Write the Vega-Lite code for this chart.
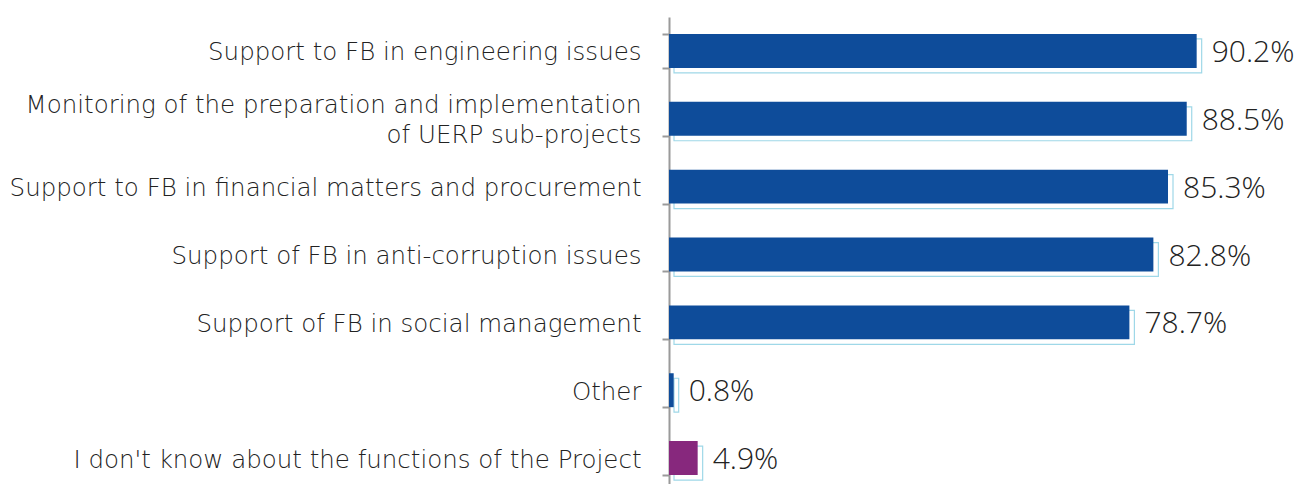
{
  "$schema": "https://vega.github.io/schema/vega-lite/v6.json",
  "autosize": "none",
  "width": 585,
  "height": 475,
  "padding": {"left": 669, "top": 17, "right": 45, "bottom": 0},
  "background": "white",
  "config": {"view": {"stroke": null}},
  "data": {"values": [
    {"cat": "Support to FB in engineering issues", "pct": 0.902, "grp": "a"},
    {"cat": "Monitoring of the preparation and implementation of UERP sub-projects", "pct": 0.885, "grp": "a"},
    {"cat": "Support to FB in financial matters and procurement", "pct": 0.853, "grp": "a"},
    {"cat": "Support of FB in anti-corruption issues", "pct": 0.828, "grp": "a"},
    {"cat": "Support of FB in social management", "pct": 0.787, "grp": "a"},
    {"cat": "Other", "pct": 0.008, "grp": "a"},
    {"cat": "I don't know about the functions of the Project", "pct": 0.049, "grp": "b"}
  ]},
  "encoding": {
    "y": {"field": "cat", "type": "nominal", "sort": null,
      "scale": {"paddingInner": 0.5, "paddingOuter": 0.25},
      "axis": {"title": null, "tickSize": 7, "labelPadding": 21, "tickColor": "#9a9a9a", "domainColor": "#9a9a9a", "domainWidth": 2, "tickWidth": 2, "tickBand": "extent",
        "labelFont": "DejaVu Sans", "labelFontWeight": 200, "labelFontSize": 24.5, "labelColor": "#222222", "labelLimit": 700, "labelLineHeight": 30,
        "labelOffset": {"condition": {"test": "datum.value == 'Monitoring of the preparation and implementation of UERP sub-projects'", "value": -13}, "value": 2},
        "labelExpr": "datum.label == 'Monitoring of the preparation and implementation of UERP sub-projects' ? ['Monitoring of the preparation and implementation', 'of UERP sub-projects'] : datum.label"}},
    "x": {"field": "pct", "type": "quantitative", "scale": {"domain": [0, 1]}, "axis": null}
  },
  "layer": [
    {"mark": {"type": "bar", "xOffset": 5, "yOffset": 5, "fill": "white", "stroke": "#9fd8e8", "strokeWidth": 1.2}},
    {"mark": {"type": "bar"},
     "encoding": {"color": {"field": "grp", "type": "nominal", "scale": {"domain": ["a", "b"], "range": ["#0e4c9a", "#87287d"]}, "legend": null}}},
    {"mark": {"type": "text", "align": "left", "baseline": "middle", "dx": 15, "dy": 2, "font": "Open Sans", "fontWeight": 300, "fontSize": 30, "color": "#222222"},
     "encoding": {"text": {"field": "pct", "type": "quantitative", "format": ".1%"}}}
  ]
}
